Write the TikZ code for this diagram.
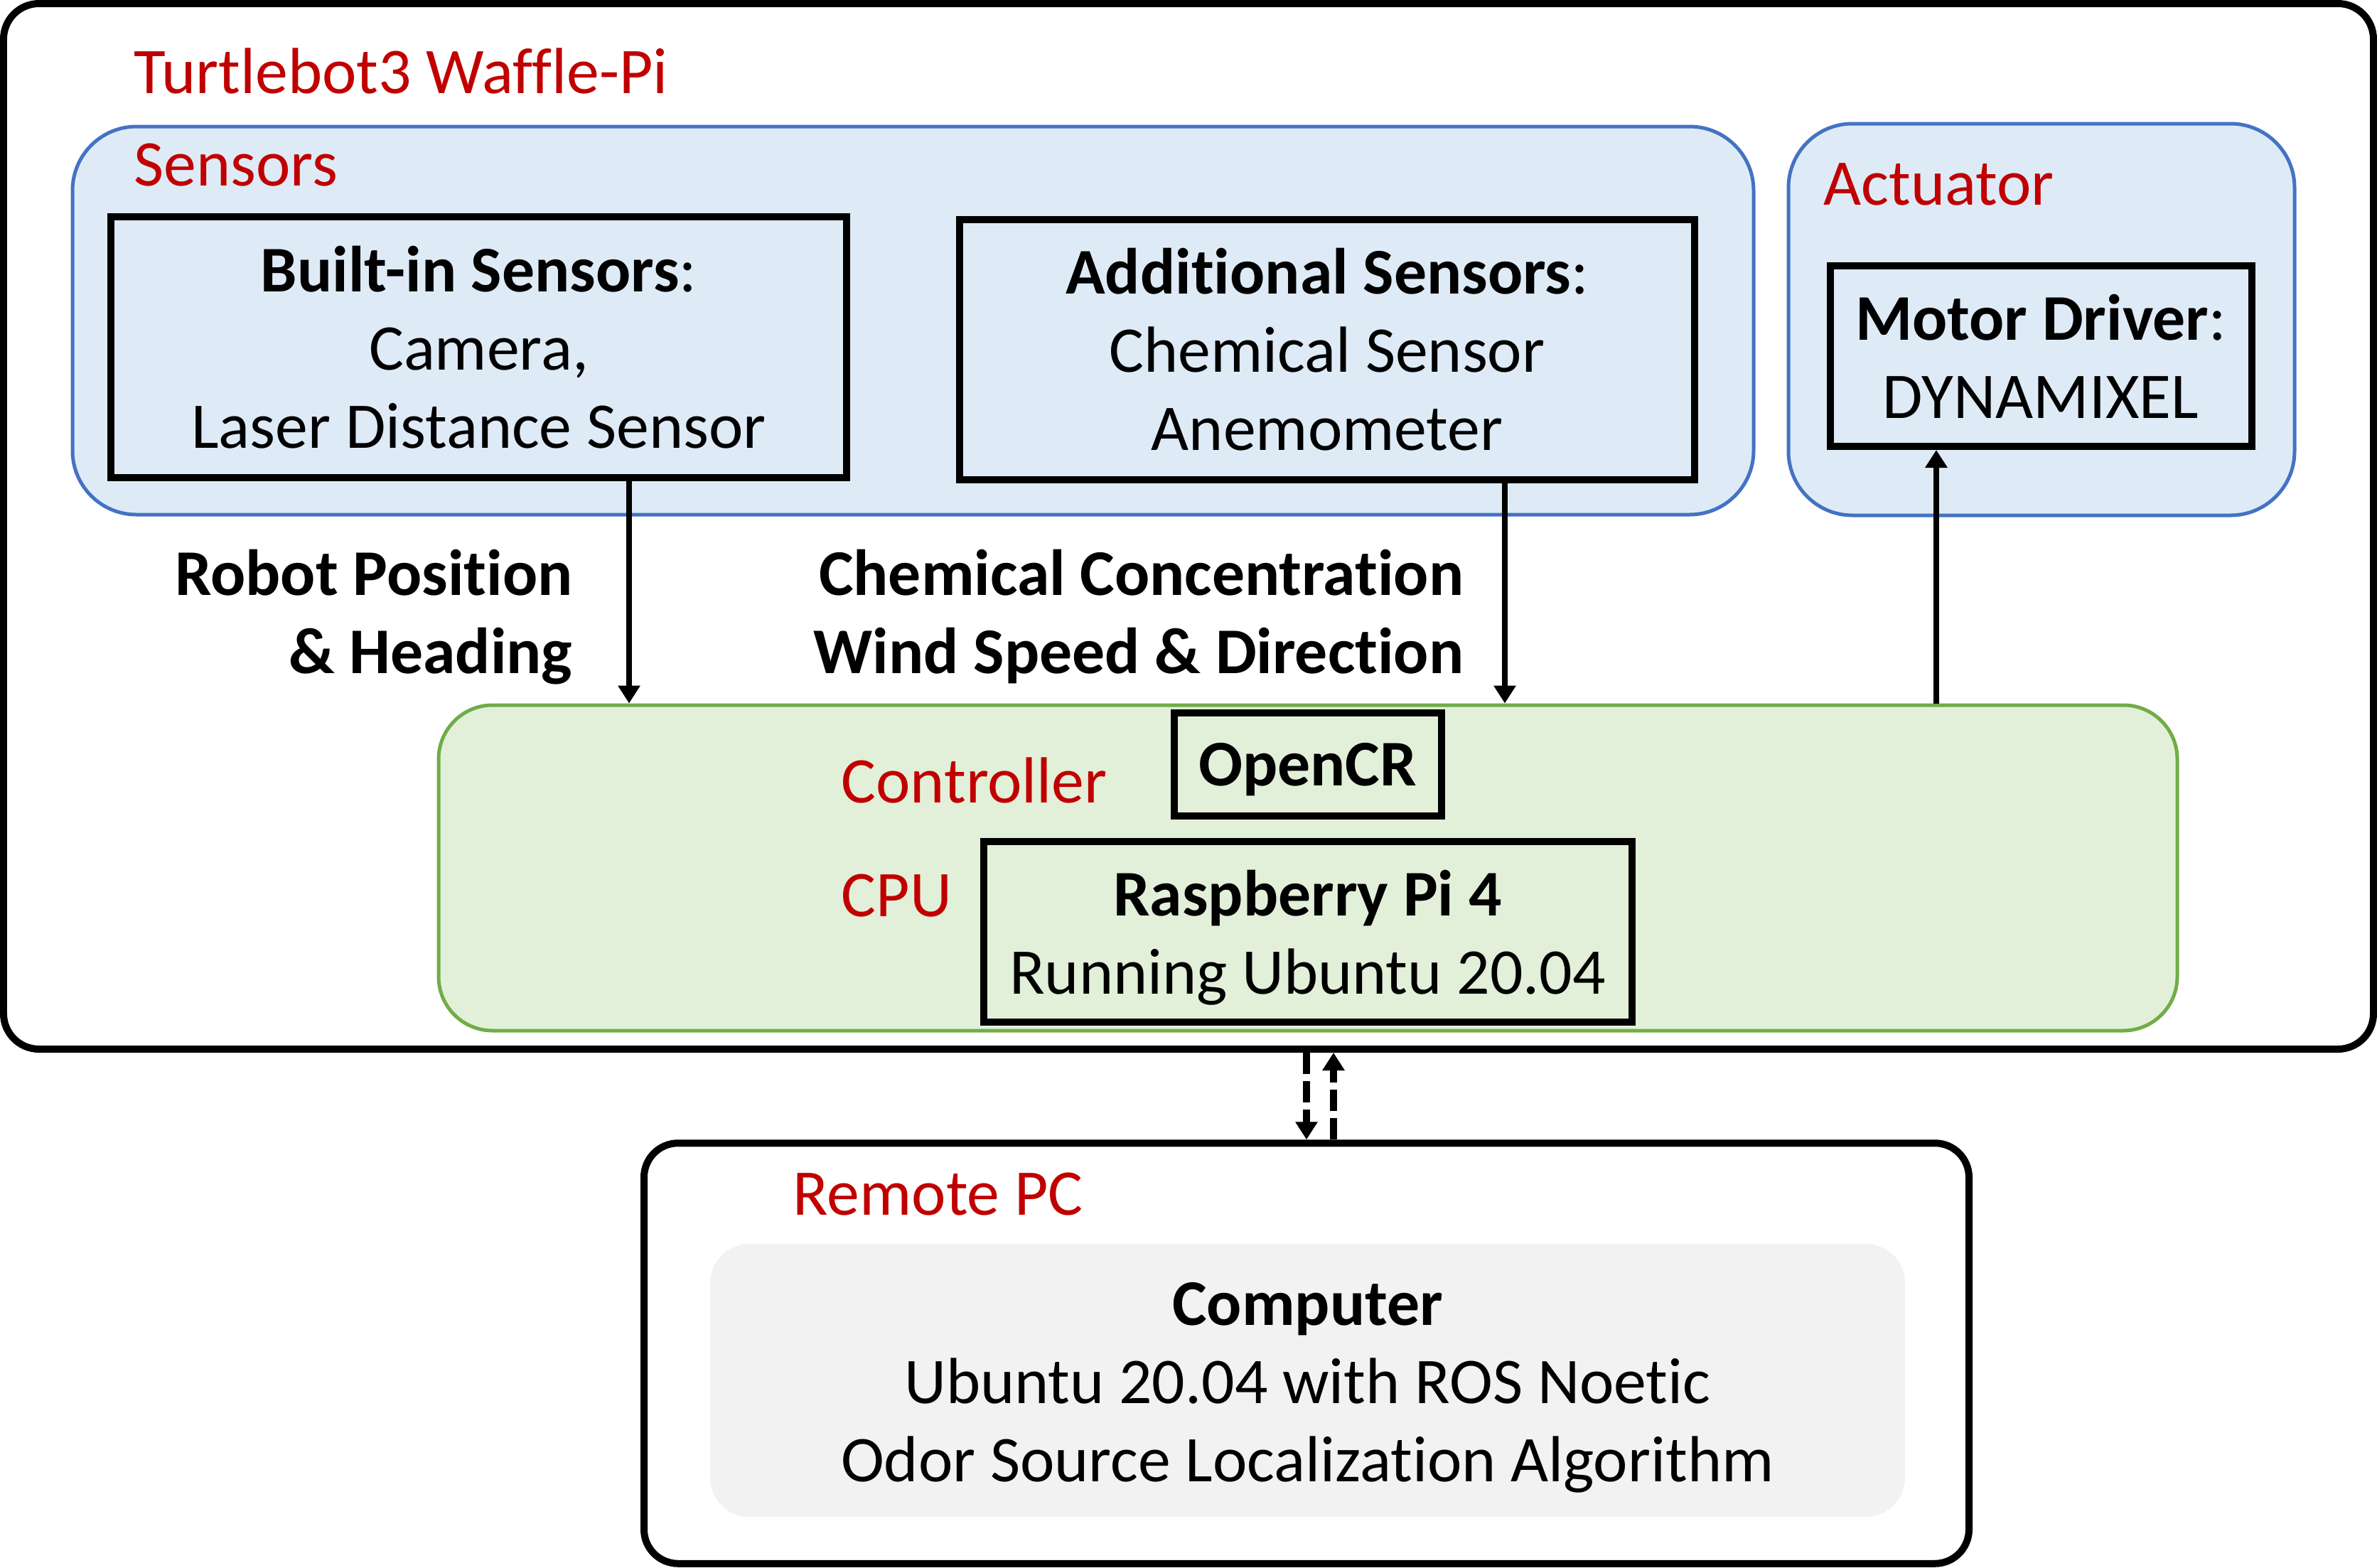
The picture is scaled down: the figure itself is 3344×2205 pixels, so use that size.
\documentclass[tikz,border=0pt]{standalone}
\usepackage{fontspec}
\setmainfont{Carlito}[Ligatures=NoCommon]
\usetikzlibrary{arrows.meta}
\definecolor{labelred}{HTML}{C00000}
\definecolor{sensorblue}{HTML}{4472C4}
\definecolor{sensorfill}{HTML}{DEEBF7}
\definecolor{ctrlgreen}{HTML}{70AD47}
\definecolor{ctrlfill}{HTML}{E2F0D9}
\definecolor{pcgray}{HTML}{F2F2F2}
\newcommand{\diagfont}{\fontsize{26.1pt}{31.3pt}\selectfont}
\tikzset{
  frame box/.style 2 args={
    draw, line width=1mm, rounded corners=5mm,
    minimum width={#1*0.1mm},
    minimum height={#2*0.1mm},
  },
  group box/.style 2 args={
    line width=0.5mm, rounded corners=9mm,
    minimum width={#1*0.1mm},
    minimum height={#2*0.1mm},
  },
  part box/.style 2 args={
    draw, line width=1mm, align=center,
    minimum width={#1*0.1mm},
    minimum height={#2*0.1mm},
  },
  group title/.style={
    text=labelred, anchor=base west, inner sep=0pt,
  },
  flow label/.style={
    anchor=east, align=right, inner sep=0pt,
    font=\diagfont\bfseries,
  },
  link/.style={
    line width=0.8mm, -{Triangle[width=3mm,length=2.5mm]},
  },
  dashed link/.style={
    link, line width=1mm, dash pattern=on 3mm off 1mm,
  },
}

\begin{document}
\begin{tikzpicture}[x=0.1mm, y=-0.1mm, every node/.style={font=\diagfont}]
        \useasboundingbox (0,0) rectangle (3344,2205);

        % robot
        \node [frame box={3334}{1471}] (robot) at (1672,740.5) {};
        \node [group title] (robot title) at (188,131) {Turtlebot3 Waffle-Pi};

        \node [group box={2365}{546}, draw=sensorblue, fill=sensorfill] (sensors) at (1284.5,451) {};
        \node [group title] (sensors title) at (188,261) {Sensors};
        \node [group box={712}{551}, draw=sensorblue, fill=sensorfill] (actuator) at (2872,449.5) {};
        \node [group title] (actuator title) at (2565,288) {Actuator};
        \node [group box={2446}{458}, draw=ctrlgreen, fill=ctrlfill, rounded corners=7.6mm] (controller) at (1840,1221) {};
        \node [group title] (controller title) at (1183,1129) {Controller};
        \node [group title] (cpu title) at (1183,1289) {CPU};

        \node [part box={1035}{367}] (builtin) at (673.5,488.5)
          {\textbf{Built-in Sensors}:\\Camera,\\Laser Distance Sensor};
        \node [part box={1034}{366}] (additional) at (1867,491.5)
          {\textbf{Additional Sensors}:\\Chemical Sensor\\Anemometer};
        \node [part box={593}{254}] (motor) at (2871,501)
          {\textbf{Motor Driver}:\\DYNAMIXEL};
        \node [part box={376}{145}, text depth=0pt] (opencr) at (1839.5,1075.5) {\textbf{OpenCR}};
        \node [part box={912}{254}] (rpi) at (1839.5,1311)
          {\rule{0pt}{23pt}\textbf{Raspberry Pi 4}\\Running Ubuntu 20.04};

        \node [flow label] (pose label) at (806,868) {Robot Position\\\& Heading};
        \node [flow label] (chem label) at (2060,868) {Chemical Concentration\\Wind Speed \& Direction};

        \draw [link] ([xshift=21.15mm]builtin.south) -- ([xshift=21.15mm]builtin.south |- controller.north);
        \draw [link] ([xshift=25mm]additional.south) -- ([xshift=25mm]additional.south |- controller.north);
        \draw [link] ([xshift=-14.7mm]motor.south |- controller.north) -- ([xshift=-14.7mm]motor.south);

        % remote pc
        \node [frame box={1864}{591.5}, rounded corners=4.8mm] (remote) at (1838,1904) {};
        \node [group title] (remote title) at (1115,1709) {Remote PC};
        \node [group box={1681}{384}, fill=pcgray, rounded corners=5.5mm, align=center] (computer) at (1839.5,1942)
          {\rule{0pt}{23pt}\textbf{Computer}\\Ubuntu 20.04 with ROS Noetic\\Odor Source Localization Algorithm};

        \draw [dashed link] (robot.south -| remote.north) -- (remote.north);
        \draw [dashed link] ([xshift=3.8mm]remote.north) -- ([xshift=3.8mm]remote.north |- robot.south);
      \end{tikzpicture}
\end{document}
